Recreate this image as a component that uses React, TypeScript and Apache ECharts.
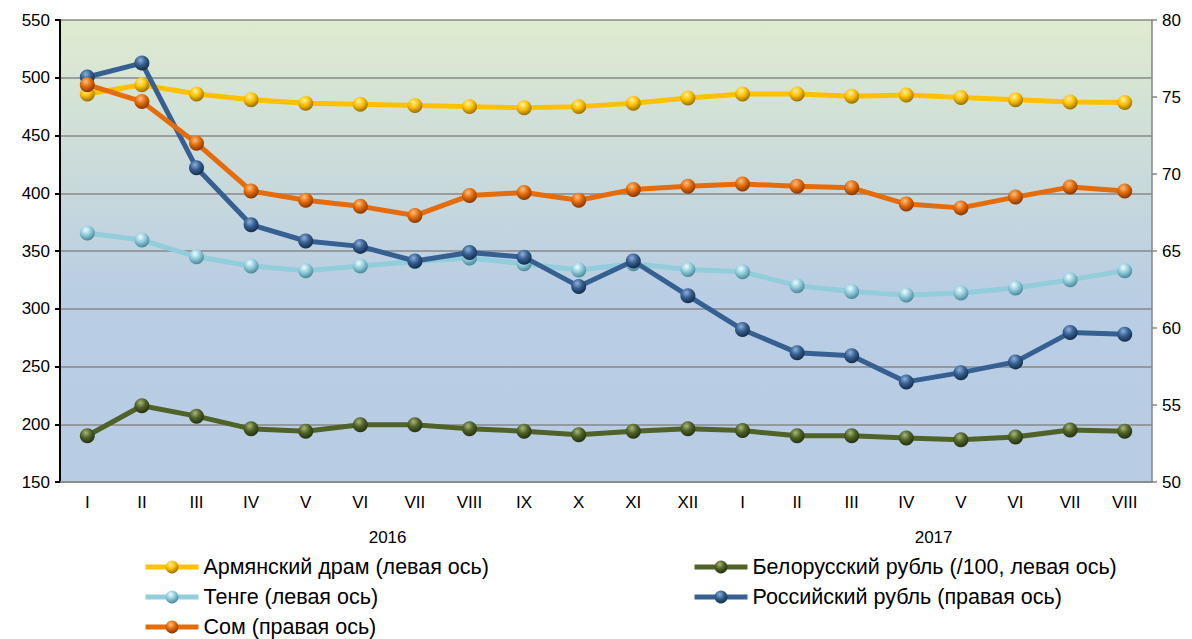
import React, { useEffect, useRef } from "react";
import * as echarts from "echarts";

const months = ["I","II","III","IV","V","VI","VII","VIII","IX","X","XI","XII","I","II","III","IV","V","VI","VII","VIII"];
const years = ["2016", "2017"];
const leftTicks = [150, 550, 50];
const rightTicks = [50, 80, 5];

const dram = [486,494,486,481,478,477,476,475,474,475,478,482.5,486,486,484,485,483,481,479,478.5];
const belRub = [190,216,207,196,194,199.5,199.5,196,194,191,194,196,194.5,190,190,188,186.5,189,195,194];
const tenge = [365.6,359.5,345,337,333,337,341,344,339,333.5,339,334,332,320,315,312,313.6,318,325,333];
const rusRub = [76.3,77.2,70.4,66.7,65.65,65.3,64.35,64.9,64.6,62.7,64.35,62.1,59.9,58.4,58.2,56.5,57.1,57.8,59.7,59.6];
const som = [75.8,74.7,72.0,68.9,68.3,67.9,67.3,68.6,68.8,68.3,69.0,69.2,69.35,69.2,69.1,68.05,67.8,68.5,69.15,68.9];

const FONT = "'Liberation Sans', Arial, sans-serif";

function sphere(light: string, base: string, dark: string) {
  return new echarts.graphic.RadialGradient(0.4, 0.3, 0.75, [
    { offset: 0, color: light },
    { offset: 0.45, color: base },
    { offset: 1, color: dark },
  ]);
}

function mk(name: string, data: number[], color: string, light: string, dark: string, yIndex: number, z: number) {
  return {
    name,
    type: "line",
    data,
    yAxisIndex: yIndex,
    z,
    symbol: "circle",
    symbolSize: 15,
    lineStyle: { color, width: 5 },
    itemStyle: { color: sphere(light, color, dark), borderWidth: 0 },
    emphasis: { disabled: true },
  };
}

const legendBase = {
  orient: "vertical",
  top: 556,
  height: 100,
  padding: 0,
  itemGap: 8,
  itemWidth: 53,
  itemHeight: 16,
  lineStyle: { width: 5 },
  textStyle: { fontSize: 21.5, lineHeight: 22, color: "#000", fontFamily: FONT },
};

export default function App() {
  const ref = useRef<HTMLDivElement>(null);
  useEffect(() => {
    if (!ref.current) return;
    const chart = echarts.init(ref.current, undefined, { renderer: "svg" });
    const option: any = {
      animation: false,
      textStyle: { fontFamily: FONT },
      grid: {
        left: 60, right: 40, top: 20, bottom: 157,
        show: true, borderWidth: 0,
        backgroundColor: new echarts.graphic.LinearGradient(0, 0, 0, 1, [
          { offset: 0, color: "#dfebd0" },
          { offset: 0.6, color: "#b9cde4" },
          { offset: 1, color: "#b8cce4" },
        ]),
      },
      legend: [
        {
          ...legendBase,
          left: 143,
          data: ["Армянский драм (левая ось)", "Тенге (левая ось)", "Сом (правая ось)"],
        },
        {
          ...legendBase,
          left: 692,
          data: ["Белорусский рубль (/100, левая ось)", "Российский рубль (правая ось)"],
        },
      ],
      xAxis: {
        type: "category",
        data: months,
        boundaryGap: true,
        axisLine: { lineStyle: { color: "#868686", width: 1.5 } },
        axisTick: { show: false },
        axisLabel: { fontSize: 17, color: "#000", margin: 12, fontFamily: FONT },
      },
      yAxis: [
        {
          type: "value", min: leftTicks[0], max: leftTicks[1], interval: leftTicks[2],
          axisLine: { show: true, lineStyle: { color: "#000", width: 2 } },
          axisTick: { show: true, length: 5, lineStyle: { color: "#000", width: 2 } },
          axisLabel: { fontSize: 17, color: "#000", margin: 10, fontFamily: FONT },
          splitLine: { lineStyle: { color: "#888", width: 1.5 } },
        },
        {
          type: "value", min: rightTicks[0], max: rightTicks[1], interval: rightTicks[2],
          position: "right",
          axisLine: { show: true, lineStyle: { color: "#868686", width: 1.5 } },
          axisTick: { show: true, length: 5, lineStyle: { color: "#868686", width: 1.5 } },
          axisLabel: { fontSize: 17, color: "#000", margin: 10, fontFamily: FONT },
          splitLine: { show: false },
        },
      ],
      series: [
        mk("Армянский драм (левая ось)", dram, "#FFC000", "#fff3a0", "#8a6400", 0, 2),
        mk("Белорусский рубль (/100, левая ось)", belRub, "#4F6228", "#a8b878", "#1f2a0a", 0, 3),
        mk("Тенге (левая ось)", tenge, "#92CDDC", "#f0fbff", "#3f7f90", 0, 2),
        mk("Российский рубль (правая ось)", rusRub, "#366092", "#8fb0dc", "#102640", 1, 4),
        mk("Сом (правая ось)", som, "#E46C0A", "#ffc080", "#7a3000", 1, 5),
      ],
    };
    chart.setOption(option);
    const p5 = chart.convertToPixel({ xAxisIndex: 0 }, 5) as number;
    const p6 = chart.convertToPixel({ xAxisIndex: 0 }, 6) as number;
    const p15 = chart.convertToPixel({ xAxisIndex: 0 }, 15) as number;
    const p16 = chart.convertToPixel({ xAxisIndex: 0 }, 16) as number;
    chart.setOption({
      graphic: [
        { type: "text", x: (p5 + p6) / 2, y: 537, style: { text: years[0], fill: "#000", font: `17px ${FONT}`, textAlign: "center", textVerticalAlign: "middle" } },
        { type: "text", x: (p15 + p16) / 2, y: 537, style: { text: years[1], fill: "#000", font: `17px ${FONT}`, textAlign: "center", textVerticalAlign: "middle" } },
      ],
    });
    return () => chart.dispose();
  }, []);
  return <div ref={ref} style={{ width: 1192, height: 639, position: "absolute", left: 0, top: 0 }} />;
}
